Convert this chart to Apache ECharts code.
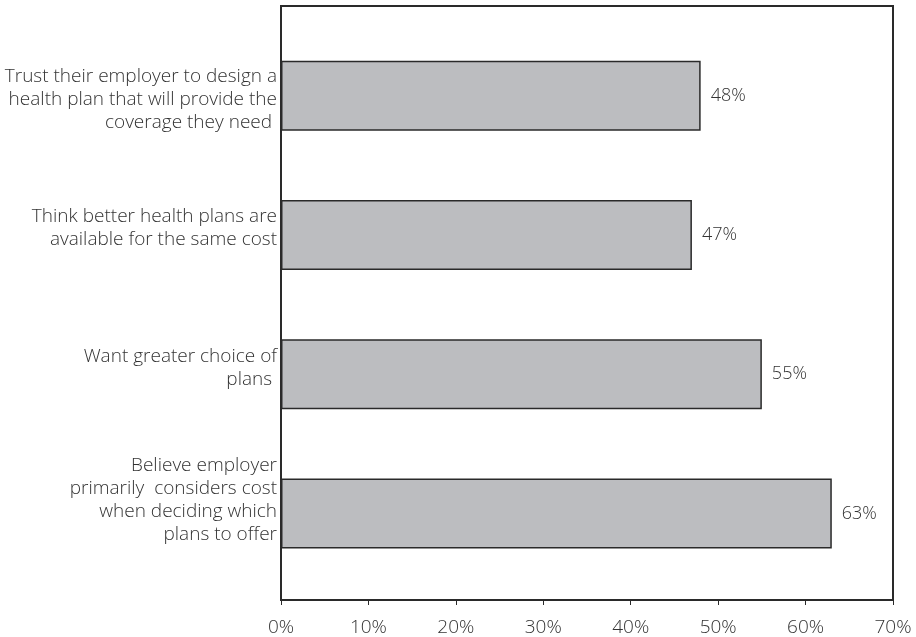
<!DOCTYPE html>
<html>
<head>
<meta charset="utf-8">
<script src="https://cdn.jsdelivr.net/npm/echarts@6/dist/echarts.min.js"></script>
<style>html,body{margin:0;padding:0;background:#fff}#c{width:916px;height:637px}</style>
</head>
<body>
<div id="c"></div>
<script>
const categories = [
  "Trust their employer to design a\nhealth plan that will provide the\ncoverage they need ",
  "Think better health plans are\navailable for the same cost",
  "Want greater choice of\nplans ",
  "Believe employer\nprimarily  considers cost\nwhen deciding which\nplans to offer"
];
const values = [48, 47, 55, 63];
const xTicks = [0, 10, 20, 30, 40, 50, 60, 70];

// vertical nudges of the category labels (positive = up), in px
const labelShift = [-4, 7, 6, 13];

const FONT = "'Open Sans', Lato, sans-serif";
const rich = {};
labelShift.forEach((s, i) => { rich['g' + i] = {fontSize: 1, height: Math.abs(2 * s), lineHeight: Math.abs(2 * s)}; });

const chart = echarts.init(document.getElementById('c'));
chart.setOption({
  animation: false,
  backgroundColor: '#fff',
  grid: [
    {left: 281, right: 23, top: 6, bottom: 37, show: true, borderColor: '#2a2a2a', borderWidth: 2, backgroundColor: 'transparent'},
    {left: 281, right: 23, top: 26, bottom: 54}
  ],
  xAxis: [
    {gridIndex: 0, type: 'value', min: xTicks[0], max: xTicks[xTicks.length - 1], interval: 10,
     splitLine: {show: false},
     axisLine: {show: true, lineStyle: {color: '#2a2a2a', width: 2}},
     axisTick: {show: true, length: 5, lineStyle: {color: '#2a2a2a', width: 1}},
     axisLabel: {formatter: '{value}%', color: '#333', fontSize: 19, fontWeight: 300, fontFamily: FONT, margin: 18}},
    {gridIndex: 1, type: 'value', min: xTicks[0], max: xTicks[xTicks.length - 1], show: false, splitLine: {show: false}}
  ],
  yAxis: [
    {gridIndex: 0, type: 'value', show: false, splitLine: {show: false}},
    {gridIndex: 1, type: 'category', inverse: true, data: categories,
     axisLine: {show: false}, axisTick: {show: false},
     axisLabel: {color: '#333', fontSize: 19, fontWeight: 300, fontFamily: FONT, lineHeight: 23, margin: 4, align: 'right',
       rich: rich,
       formatter: (v, i) => labelShift[i] >= 0 ? v + '\n{g' + i + '| }' : '{g' + i + '| }\n' + v}}
  ],
  series: [{
    type: 'bar', xAxisIndex: 1, yAxisIndex: 1, data: values, barWidth: 70,
    itemStyle: {color: '#BCBDC0', borderColor: '#2a2a2a', borderWidth: 1.5},
    label: {show: true, position: 'right', distance: 10, formatter: '{c}%', color: '#333', fontSize: 18, fontWeight: 300, fontFamily: FONT}
  }]
});
</script>
</body>
</html>
